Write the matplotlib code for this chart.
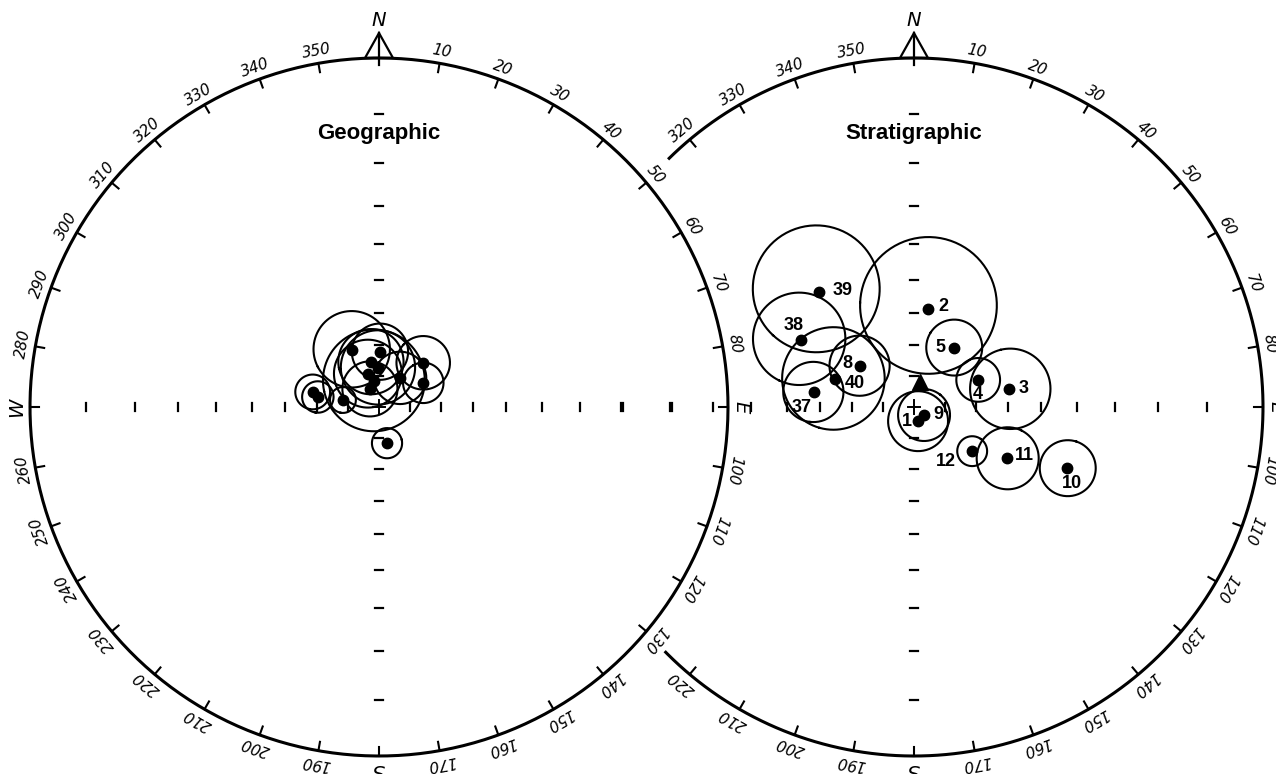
import numpy as np
import matplotlib.pyplot as plt
from matplotlib.patches import Polygon

# site mean directions before tilt correction (declination, inclination, alpha95 in degrees)
geo_dec = [282.8, 279.3, 281.0, 334.7, 1.0, 35.9, 45.0, 61.4, 167.5, 349.9, 358.5, 341.6, 349.1, 333.4]
geo_inc = [68.0, 69.9, 78.0, 69.5, 72.1, 78.3, 69.8, 73.6, 77.9, 75.1, 77.2, 78.6, 81.3, 83.4]
geo_a95 = [5.5, 5.0, 4.2, 12.1, 9.0, 8.5, 8.5, 6.5, 4.9, 10.5, 12.0, 11.0, 16.5, 9.0]

# site mean directions after tilt correction
sites = ['1', '2', '3', '4', '5', '8', '9', '10', '11', '12', '37', '38', '39', '40']
strat_dec = [164.0, 8.1, 79.3, 67.1, 34.1, 307.2, 128.7, 111.7, 118.7, 127.2, 278.5, 300.7, 320.4, 289.5]
strat_inc = [85.2, 58.3, 59.0, 67.5, 66.9, 68.0, 85.8, 39.5, 56.2, 66.4, 57.7, 48.7, 43.7, 63.0]
strat_a95 = [9.8, 20.5, 12.2, 6.9, 8.8, 9.5, 8.5, 7.5, 9.3, 4.7, 9.1, 13.2, 17.4, 15.8]

# reference direction (triangle)
ref_dec, ref_inc = 13.5, 81.6

# label offsets in pixels (dx, dy)
label_off = {'1': (-11, 0), '2': (15, 2), '3': (15, 1), '4': (0, -15), '5': (-14, 0),
             '8': (-13, 2), '9': (14, 1), '10': (5, -16), '11': (17, 2), '12': (-26, -10),
             '37': (-12, -15), '38': (-7, 14), '39': (24, 2), '40': (20, -4)}

PX = 1 / 349.0          # one pixel in net-radius units
RIGHT_CX = 535 * PX     # centre of the second net


def project(dec, inc):
    """Stereographic (Wulff) projection, lower hemisphere, unit radius."""
    dec = np.radians(dec)
    rho = np.tan(np.radians(90 - np.asarray(inc)) / 2)
    return rho * np.sin(dec), rho * np.cos(dec)


def small_circle(dec, inc, a95, n=181):
    d, i = np.radians(dec), np.radians(inc)
    v = np.array([np.cos(i) * np.cos(d), np.cos(i) * np.sin(d), np.sin(i)])
    u1 = np.cross(v, [0, 0, 1.0])
    if np.linalg.norm(u1) < 1e-9:
        u1 = np.array([1.0, 0, 0])
    u1 /= np.linalg.norm(u1)
    u2 = np.cross(v, u1)
    a = np.radians(a95)
    t = np.linspace(0, 2 * np.pi, n)
    p = (np.cos(a) * v[:, None]
         + np.sin(a) * (np.cos(t) * u1[:, None] + np.sin(t) * u2[:, None]))
    pdec = np.degrees(np.arctan2(p[1], p[0]))
    pinc = np.degrees(np.arcsin(np.clip(p[2], -1, 1)))
    return project(pdec, pinc)


def draw_net(ax, cx, title, visible=lambda az: True, arc=(0, 360)):
    # primitive circle
    t = np.radians(np.linspace(arc[0], arc[1], 400))
    ax.plot(cx + np.sin(t), np.cos(t), color='black', lw=2.2, solid_capstyle='butt')

    for az in range(0, 360, 10):
        if not visible(az):
            continue
        s, c = np.sin(np.radians(az)), np.cos(np.radians(az))
        if az != 0:
            ax.plot([cx + s, cx + s * (1 - 9 * PX)], [c, c * (1 - 9 * PX)], color='black', lw=1.5)
        if az % 90 == 0:
            letter = {0: 'N', 90: 'E', 180: 'S', 270: 'W'}[az]
            off = 37 if az == 0 else 13
            ax.text(cx + s * (1 + off * PX), c * (1 + off * PX), letter, rotation=-az,
                    rotation_mode='anchor', ha='center', va='center', fontsize=14,
                    fontstyle='oblique', family='DejaVu Sans')
        else:
            ax.text(cx + s * (1 + 12 * PX), c * (1 + 12 * PX), str(az), rotation=-az,
                    rotation_mode='anchor', ha='center', va='center', fontsize=11,
                    fontstyle='oblique', family='DejaVu Sans')

    # north arrow
    tri = Polygon([[cx - 14 * PX, 1], [cx + 14 * PX, 1], [cx, 1 + 25 * PX]],
                  closed=True, fill=False, lw=1.6, edgecolor='black')
    ax.add_patch(tri)
    ax.plot([cx, cx], [1 - 7 * PX, 1 + 25 * PX], color='black', lw=1.6)

    # inclination ticks along the axes
    rho = np.tan(np.radians(90 - np.arange(10, 90, 10)) / 2)
    h = 4 * PX
    for r in rho:
        for sgn in (-1, 1):
            ax.plot([cx + sgn * r, cx + sgn * r], [-h, h], color='black', lw=1.6)
            ax.plot([cx - h, cx + h], [sgn * r, sgn * r], color='black', lw=1.6)
    ax.plot([cx - 6 * PX, cx + 6 * PX], [0, 0], color='black', lw=1.4)
    ax.plot([cx, cx], [-7 * PX, 7 * PX], color='black', lw=1.4)

    ax.text(cx, 0.785, title, ha='center', va='center', fontsize=16, fontweight='bold',
            family='Liberation Sans',
            bbox=dict(facecolor='white', edgecolor='none', pad=1))


def draw_sites(ax, cx, decs, incs, a95s, names=None):
    for k, (d, i, a) in enumerate(zip(decs, incs, a95s)):
        x, y = small_circle(d, i, a)
        ax.plot(cx + x, y, color='black', lw=1.5)
        px, py = project(d, i)
        ax.plot(cx + px, py, 'o', color='black', ms=7.5)
        if names is not None:
            dx, dy = label_off[names[k]]
            ax.annotate(names[k], (cx + px, py), xytext=(dx, dy), textcoords='offset pixels',
                        ha='center', va='center', fontsize=13, fontweight='bold',
                        family='Liberation Sans')


fig = plt.figure(figsize=(12.76, 7.74), dpi=100)
ax = fig.add_axes([0, 0, 1, 1])
ax.set_xlim(-379 * PX, (1276 - 379) * PX)
ax.set_ylim(-(774 - 407) * PX, 407 * PX)
ax.set_aspect('equal')
ax.axis('off')

draw_net(ax, 0.0, 'Geographic')
draw_sites(ax, 0.0, geo_dec, geo_inc, geo_a95)

# the second primitive is broken where it runs into the first one
draw_net(ax, RIGHT_CX, 'Stratigraphic', visible=lambda az: az >= 315 or az <= 225,
         arc=(-44.8, 225.6))
draw_sites(ax, RIGHT_CX, strat_dec, strat_inc, strat_a95, sites)
rx, ry = project(ref_dec, ref_inc)
ax.plot(RIGHT_CX + rx, ry, '^', color='black', ms=11)

fig.savefig('out.png', dpi=100, facecolor='white')
